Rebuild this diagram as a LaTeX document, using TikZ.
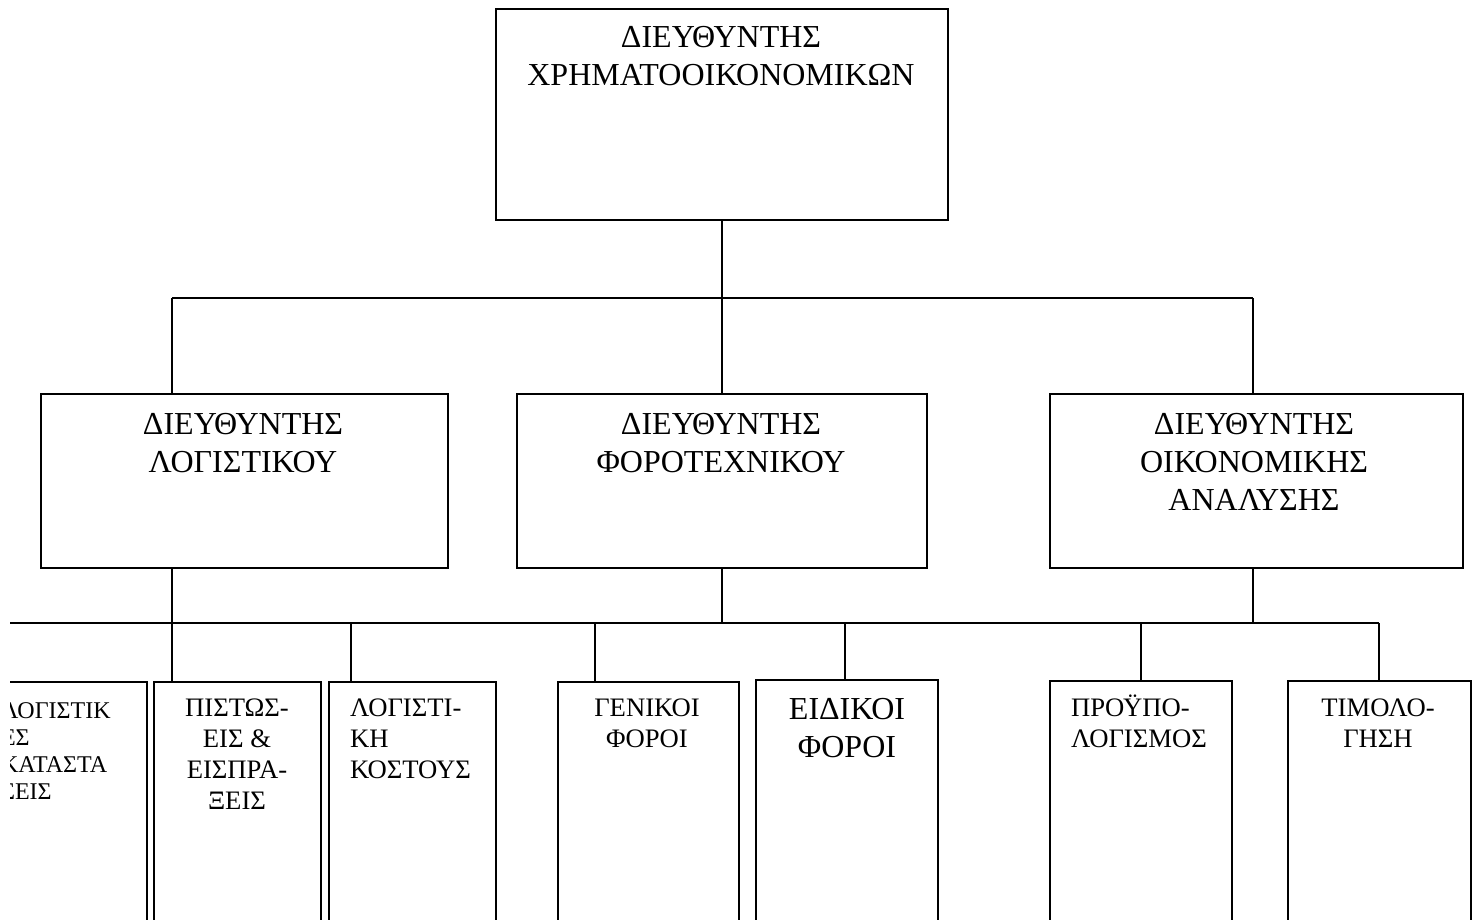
\documentclass[tikz,border=0pt]{standalone}
\usepackage{fontspec}
\setmainfont{Liberation Serif}
\usetikzlibrary{calc}

\begin{document}
\begin{tikzpicture}[x=0.375pt, y=-0.375pt, line width=0.8pt,
    unit/.style 2 args={draw, inner sep=0pt, anchor=north west,
        minimum width=#1*0.375pt, minimum height=#2*0.375pt},
    big/.style={font=\fontsize{12}{14.25}\selectfont, inner sep=0pt},
    small/.style={font=\fontsize{10}{11.6}\selectfont, inner sep=0pt},
    tiny/.style={font=\fontsize{9}{10.1}\selectfont, inner sep=0pt}]
    \useasboundingbox (0,0) rectangle (1476,919);
    \clip (10,-5) rectangle (1476,919);

    % Top level (text placed by the baseline of its last line)
    \node[unit={452}{211}] (fin) at (495,8) {};
    \node[big, align=center, anchor=base] (finT) at (721,85)
        {ΔΙΕΥΘΥΝΤΗΣ\\ΧΡΗΜΑΤΟΟΙΚΟΝΟΜΙΚΩΝ};

    % Second level
    \node[unit={407}{174}] (lg) at (40,393) {};
    \node[unit={410}{174}] (fr) at (516,393) {};
    \node[unit={413}{174}] (oa) at (1049,393) {};
    \node[big, align=center, anchor=base] (lgT) at (243,472)
        {ΔΙΕΥΘΥΝΤΗΣ\\ΛΟΓΙΣΤΙΚΟΥ};
    \node[big, align=center, anchor=base] (frT) at (721,472)
        {ΔΙΕΥΘΥΝΤΗΣ\\ΦΟΡΟΤΕΧΝΙΚΟΥ};
    \node[big, align=center, anchor=base] (oaT) at (1254,510)
        {ΔΙΕΥΘΥΝΤΗΣ\\ΟΙΚΟΝΟΜΙΚΗΣ\\ΑΝΑΛΥΣΗΣ};

    % Third level
    \node[unit={186}{260}] (b1) at (-40,681) {};
    \node[unit={167}{260}] (b2) at (153,681) {};
    \node[unit={167}{260}] (b3) at (328,681) {};
    \node[unit={181}{260}] (b4) at (557,681) {};
    \node[unit={182}{260}] (b5) at (755,679) {};
    \node[unit={182}{260}] (b6) at (1049,680) {};
    \node[unit={183}{260}] (b7) at (1287,680) {};

    \node[tiny, align=left, anchor=base west] (b1T) at (0,799)
        {ΛΟΓΙΣΤΙΚ\\ΕΣ\\ΚΑΤΑΣΤΑ\\ΣΕΙΣ};
    \node[small, align=center, anchor=base] (b2T) at (237,809)
        {ΠΙΣΤΩΣ-\\ΕΙΣ \&\\ΕΙΣΠΡΑ-\\ΞΕΙΣ};
    \node[small, align=left, anchor=base west] (b3T) at (349,778)
        {ΛΟΓΙΣΤΙ-\\ΚΗ\\ΚΟΣΤΟΥΣ};
    \node[small, align=center, anchor=base] (b4T) at (647,747)
        {ΓΕΝΙΚΟΙ\\ΦΟΡΟΙ};
    \node[big, align=center, anchor=base] (b5T) at (847,757)
        {ΕΙΔΙΚΟΙ\\ΦΟΡΟΙ};
    \node[small, align=left, anchor=base west] (b6T) at (1070,747)
        {ΠΡΟΫΠΟ-\\ΛΟΓΙΣΜΟΣ};
    \node[small, align=center, anchor=base] (b7T) at (1378,747)
        {ΤΙΜΟΛΟ-\\ΓΗΣΗ};

    % Upper bus
    \coordinate (aL) at (172,298);
    \coordinate (aR) at (1253,298);
    \draw (aL) -- (aR);
    \draw (fin.south) -- (fr.north);
    \draw (aL) -- (aL |- lg.north);
    \draw (aR) -- (aR |- oa.north);

    % Lower bus
    \coordinate (bL) at (0,623);
    \coordinate (bR) at (1379,623);
    \draw (bL) -- (bR);
    \draw (aL |- lg.south) -- (aL |- b2.north);
    \draw (fr.south) -- (fr.south |- bL);
    \draw (aR |- oa.south) -- (aR |- bL);
    \foreach \b/\x in {b3/351, b4/595, b5/845, b6/1141, b7/1379} {
        \coordinate (t\b) at (\x,623);
        \draw (t\b) -- (t\b |- \b.north);
    }
\end{tikzpicture}
\end{document}
